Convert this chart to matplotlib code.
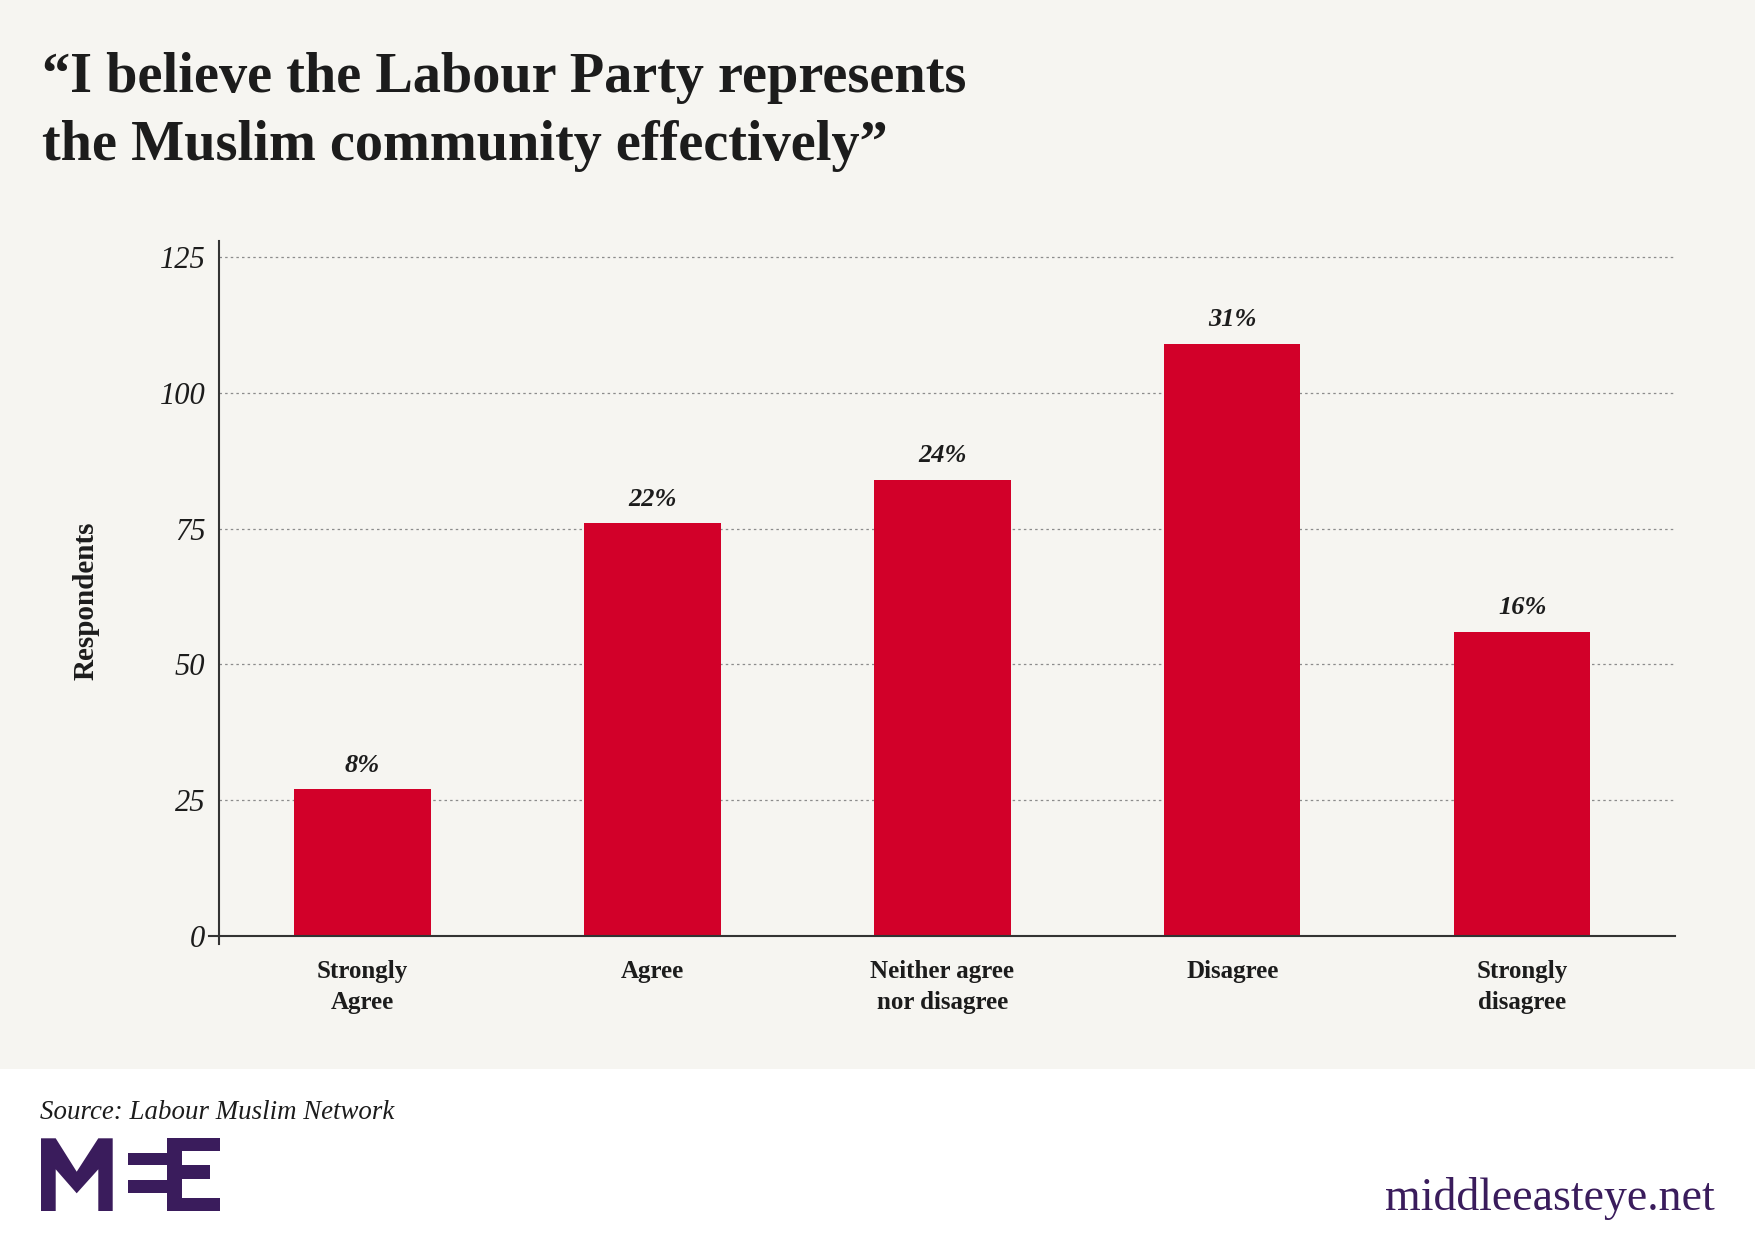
import matplotlib
matplotlib.use("Agg")
import matplotlib.pyplot as plt
from matplotlib.patches import Rectangle, Polygon
from matplotlib.lines import Line2D

categories = ["Strongly\nAgree", "Agree", "Neither agree\nnor disagree", "Disagree", "Strongly\ndisagree"]
respondents = [27, 76, 84, 109, 56]
pct_labels = ["8%", "22%", "24%", "31%", "16%"]
yticks = [0, 25, 50, 75, 100, 125]

W, H = 1755, 1241
DPI = 100
BEIGE = "#f6f5f1"
RED = "#d20029"
PURPLE = "#3a1c5c"
INK = "#1c1c1c"
SERIF = ["Liberation Serif", "DejaVu Serif"]

fig = plt.figure(figsize=(W / DPI, H / DPI), dpi=DPI, facecolor="white")

# overlay axes in pixel coordinates for background, titles, logo
fa = fig.add_axes([0, 0, 1, 1], zorder=0)
fa.set_xlim(0, W)
fa.set_ylim(H, 0)
fa.axis("off")
fa.add_patch(Rectangle((0, 0), W, 1069, facecolor=BEIGE, edgecolor="none"))

fa.text(42, 92, "\u201cI believe the Labour Party represents", family=SERIF, weight="bold",
        fontsize=40.5, color=INK, va="baseline", ha="left")
fa.text(42, 160, "the Muslim community effectively\u201d", family=SERIF, weight="bold",
        fontsize=40.5, color=INK, va="baseline", ha="left")

fa.text(40, 1119, "Source: Labour Muslim Network", family=SERIF, style="italic",
        fontsize=19.4, color=INK, va="baseline", ha="left")
fa.text(1715, 1210, "middleeasteye.net", family=SERIF, fontsize=33, color=PURPLE,
        va="baseline", ha="right")

# MEE logo
m_pts = [(41, 1211), (41, 1138.3), (55.7, 1138.3), (76.7, 1171.7), (98.3, 1138.3),
         (112.7, 1138.3), (112.7, 1211), (98.3, 1211), (98.3, 1169.3), (76.7, 1193.3),
         (55.7, 1169.3), (55.7, 1211)]
fa.add_patch(Polygon(m_pts, closed=True, facecolor=PURPLE, edgecolor="none"))
for (x0, y0, x1, y1) in [(127.7, 1152.7, 166.7, 1165), (127.7, 1180, 166.7, 1193.3),
                         (166.7, 1138.3, 181.7, 1211), (166.7, 1138.3, 220, 1150.7),
                         (181.7, 1165, 210, 1179.3), (166.7, 1198.3, 220, 1211)]:
    fa.add_patch(Rectangle((x0, y0), x1 - x0, y1 - y0, facecolor=PURPLE, edgecolor="none"))

# main chart
ax = fig.add_axes([219.4 / W, (H - 936) / H, (1675 - 219.4) / W, (936 - 240.6) / H], zorder=1)
ax.set_facecolor("none")
x = list(range(len(categories)))
bars = ax.bar(x, respondents, width=0.47, color=RED, zorder=3)
ax.set_xlim(-0.494, 4.527)
ax.set_ylim(0, 128)

for b, lab in zip(bars, pct_labels):
    ax.annotate(lab, (b.get_x() + b.get_width() / 2, b.get_height()), xytext=(0, 9),
                textcoords="offset points", ha="center", va="bottom", family=SERIF,
                weight="bold", style="italic", fontsize=19, color=INK)

ax.set_yticks(yticks)
ax.set_yticklabels([str(t) for t in yticks], family=SERIF, style="italic", fontsize=22, color=INK)
ax.tick_params(axis="y", length=0, pad=10)
ax.set_xticks(x)
ax.set_xticklabels(categories, family=SERIF, weight="bold", fontsize=18, color=INK,
                   linespacing=1.45)
ax.tick_params(axis="x", length=0, pad=17)

for yv in yticks[1:]:
    ax.axhline(yv, color="#8c8c8c", lw=0.9, ls=(0, (2, 2.5)), zorder=1)

for s in ["top", "right"]:
    ax.spines[s].set_visible(False)
for s in ["left", "bottom"]:
    ax.spines[s].set_color("#333333")
    ax.spines[s].set_linewidth(1.5)
    ax.spines[s].set_zorder(4)

# spine overhangs at origin
ax.add_line(Line2D([-0.007, 0], [0, 0], transform=ax.transAxes, color="#333333", lw=1.5, clip_on=False))
ax.add_line(Line2D([0, 0], [-0.011, 0], transform=ax.transAxes, color="#333333", lw=1.5, clip_on=False))

ax.set_ylabel("Respondents", family=SERIF, weight="bold", fontsize=21, color=INK)
ax.yaxis.set_label_coords(-0.082, 0.482)

fig.savefig("out.png", dpi=DPI, facecolor="white")
